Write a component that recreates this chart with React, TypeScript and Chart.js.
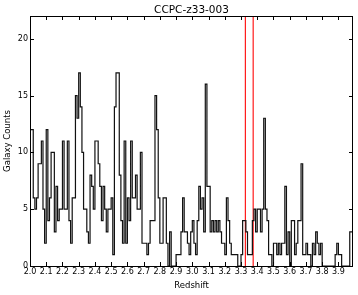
import React, { useEffect, useRef } from "react";
import { Chart, registerables } from "chart.js";

Chart.register(...registerables);

const TITLE = "CCPC-z33-003";
const X_LABEL = "Redshift";
const Y_LABEL = "Galaxy Counts";

// histogram bins: start at z = 2.00, width 0.01
const BIN_START = 2.0;
const BIN_WIDTH = 0.01;
const COUNTS = [
  9, 12, 12, 6, 5, 6, 9, 9, 11, 5,
  2, 12, 4, 6, 10, 10, 3, 7, 4, 5,
  5, 11, 5, 5, 11, 4, 2, 6, 6, 15,
  13, 17, 14, 10, 5, 5, 3, 2, 8, 7,
  5, 11, 11, 9, 7, 4, 7, 5, 3, 5,
  5, 6, 1, 14, 17, 17, 8, 4, 2, 11,
  2, 6, 4, 11, 6, 6, 8, 5, 5, 10,
  2, 2, 2, 1, 2, 4, 4, 4, 15, 12,
  6, 2, 2, 6, 6, 2, 0, 3, 0, 0,
  0, 1, 1, 1, 3, 6, 3, 3, 2, 1,
  3, 4, 2, 1, 4, 7, 5, 6, 3, 16,
  7, 7, 3, 4, 3, 4, 3, 4, 3, 2,
  2, 1, 6, 4, 2, 1, 1, 1, 1, 0,
  0, 1, 4, 4, 3, 1, 1, 1, 4, 5,
  3, 5, 5, 3, 5, 13, 5, 4, 1, 1,
  0, 2, 2, 1, 2, 1, 2, 2, 7, 1,
  3, 0, 4, 4, 1, 2, 4, 4, 9, 1,
  1, 2, 1, 1, 0, 2, 1, 3, 2, 1,
  2, 0, 0, 0, 0, 0, 0, 0, 0, 1,
  2, 1, 1, 0, 0, 0, 0, 0, 3,
];

const MARKERS = [3.327, 3.375];

const X_TICKS = [2.0, 2.1, 2.2, 2.3, 2.4, 2.5, 2.6, 2.7, 2.8, 2.9, 3.0, 3.1, 3.2, 3.3, 3.4, 3.5, 3.6, 3.7, 3.8, 3.9];
const Y_TICKS = [0, 5, 10, 15, 20];
const X_MIN = 2.0;
const X_MAX = 3.99;
const Y_MIN = 0;
const Y_MAX = 22;

const FONT = "'DejaVu Sans', sans-serif";
const TICK_LEN = 4;

const framePlugin = {
  id: "frame",
  afterDraw(chart: any) {
    const { ctx, chartArea, scales } = chart;
    const { left, right, top, bottom } = chartArea;
    ctx.save();
    ctx.strokeStyle = "#000";
    ctx.lineWidth = 1;
    ctx.beginPath();
    for (const t of scales.x.ticks) {
      const px = Math.round(scales.x.getPixelForValue(t.value)) + 0.5;
      ctx.moveTo(px, bottom);
      ctx.lineTo(px, bottom - TICK_LEN);
      ctx.moveTo(px, top);
      ctx.lineTo(px, top + TICK_LEN);
    }
    for (const t of scales.y.ticks) {
      const py = Math.round(scales.y.getPixelForValue(t.value)) + 0.5;
      ctx.moveTo(left, py);
      ctx.lineTo(left + TICK_LEN, py);
      ctx.moveTo(right, py);
      ctx.lineTo(right - TICK_LEN, py);
    }
    ctx.stroke();
    ctx.strokeRect(left + 0.5, top + 0.5, right - left - 1, bottom - top);
    ctx.restore();
  },
};

export default function App() {
  const ref = useRef<HTMLCanvasElement | null>(null);

  useEffect(() => {
    if (!ref.current) return;
    const n = COUNTS.length;
    const end = BIN_START + n * BIN_WIDTH;
    const stepData = [
      { x: BIN_START, y: 0 },
      ...COUNTS.map((c, i) => ({ x: BIN_START + i * BIN_WIDTH, y: c })),
      { x: end, y: COUNTS[n - 1] },
      { x: end, y: 0 },
    ];
    const markerSets = MARKERS.map((m) => ({
      type: "line" as const,
      data: [
        { x: m, y: Y_MIN },
        { x: m, y: Y_MAX },
      ],
      borderColor: "rgba(255,0,0,0.9)",
      borderWidth: 1.2,
      pointRadius: 0,
      fill: false,
    }));

    const chart = new Chart(ref.current, {
      type: "line",
      data: {
        datasets: [
          {
            data: stepData,
            stepped: "after",
            borderColor: "#111",
            borderWidth: 1.2,
            pointRadius: 0,
            fill: false,
            tension: 0,
          },
          ...markerSets,
        ] as any,
      },
      options: {
        responsive: false,
        animation: false,
        devicePixelRatio: 1,
        layout: { padding: { left: 0, right: 5, top: 0, bottom: 0 } },
        plugins: {
          legend: { display: false },
          tooltip: { enabled: false },
          title: {
            display: true,
            text: TITLE,
            fullSize: false,
            color: "#000",
            font: { family: FONT, size: 10.5, weight: "normal", lineHeight: 1.0 },
            padding: { top: 5.5, bottom: 0 },
          },
        },
        scales: {
          x: {
            type: "linear",
            min: X_MIN,
            max: X_MAX,
            grid: { display: false, drawTicks: false, tickLength: 0 },
            border: { display: false },
            afterBuildTicks: (s: any) => {
              s.ticks = X_TICKS.map((v) => ({ value: v }));
            },
            afterFit: (s: any) => {
              s.height = 29;
            },
            ticks: {
              autoSkip: false,
              maxRotation: 0,
              minRotation: 0,
              includeBounds: false,
              padding: 1,
              color: "#000",
              font: { family: FONT, size: 8 },
              callback: (v: any) => Number(v).toFixed(1),
            },
            title: {
              display: true,
              text: X_LABEL,
              color: "#000",
              font: { family: FONT, size: 8.5 },
              padding: { top: 0, bottom: 4.3 },
            },
          },
          y: {
            type: "linear",
            min: Y_MIN,
            max: Y_MAX,
            grid: { display: false, drawTicks: false, tickLength: 0 },
            border: { display: false },
            afterBuildTicks: (s: any) => {
              s.ticks = Y_TICKS.map((v) => ({ value: v }));
            },
            afterFit: (s: any) => {
              s.width = 30;
            },
            ticks: {
              includeBounds: false,
              padding: 2,
              color: "#000",
              font: { family: FONT, size: 8 },
              callback: (v: any) => String(v),
            },
            title: {
              display: true,
              text: Y_LABEL,
              color: "#000",
              font: { family: FONT, size: 8.5 },
              padding: { top: 2.4, bottom: 0 },
            },
          },
        },
      },
      plugins: [framePlugin],
    } as any);

    return () => chart.destroy();
  }, []);

  return (
    <div style={{ position: "absolute", left: 0, top: 0, width: 358, height: 295, background: "#fff" }}>
      <canvas ref={ref} width={358} height={295} style={{ width: 358, height: 295, display: "block" }} />
    </div>
  );
}
